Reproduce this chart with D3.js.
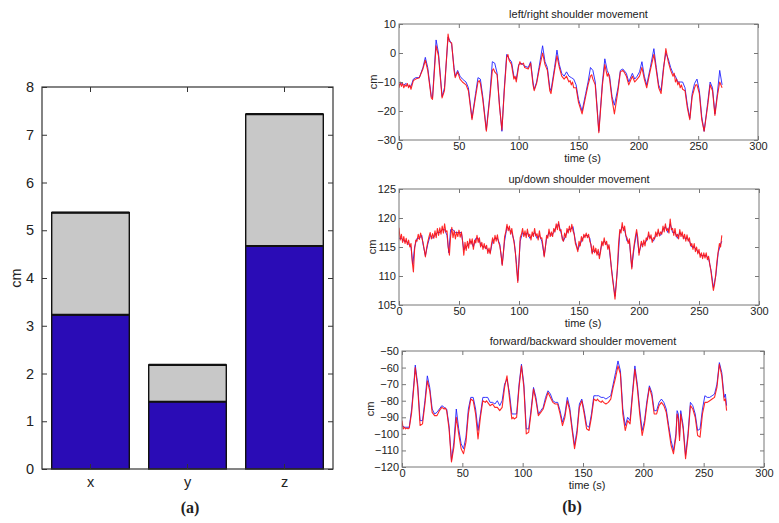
<!DOCTYPE html>
<html>
<head>
<meta charset="utf-8">
<script src="https://cdn.jsdelivr.net/npm/d3@7"></script>
<style>
  html, body { margin: 0; padding: 0; background: #fff; }
  svg { display: block; }
  text { font-family: "Liberation Sans", Arial, sans-serif; fill: #222; }
</style>
</head>
<body>
<svg id="chart" width="779" height="523"></svg>
<script>
// ---------------- (a) bar chart data ----------------
const categories = ["x", "y", "z"];
const blueValues = [3.23, 1.41, 4.67];
const grayValues = [2.14, 0.77, 2.76];   // stacked on top of blue
const barTicks = [0, 1, 2, 3, 4, 5, 6, 7, 8];

// ---------------- (b) time series data [time s, cm] ----------------
const timeTicks = [0, 50, 100, 150, 200, 250, 300];

const lrTicks = [-30, -20, -10, 0, 10];
const lrBlue = [[0,-11],[2,-10.5],[4,-11],[6,-10.5],[8,-11.5],[10,-11.5],[12,-9],[14,-8.5],[17,-8.5],[20,-5],[22,-1.5],[24,-5],[27,-15],[28,-15.5],[31,4.5],[33,0],[36,-15],[38,-12],[41,5.5],[44,3],[46,-5],[47,-8],[49,-6],[51,-8],[53,-9],[56,-10],[58,-12],[61,-22.5],[64,-14],[66,-8.5],[68,-9],[70,-15],[73,-26.5],[76,-14],[78,-3],[80,-3.5],[82,-7],[84,-18],[86,-27],[88,-12],[90,-0.5],[92,-2],[94,-3],[96,-8],[98,-9],[100,-4],[102,-3.5],[105,-4.5],[108,-5],[110,-3],[112,-10],[113,-12.5],[115,-10],[117,-5],[120,2.5],[122,-3],[124,-5],[126,-12],[127,-13],[130,-5],[132,1],[134,-4],[136,-7],[138,-8],[140,-6.5],[142,-8],[144,-8.5],[146,-9],[148,-11],[150,-16],[153,-20],[156,-14],[158,-10],[160,-5],[162,-6],[164,-10],[167,-27],[170,-10],[172,-2],[174,-6],[176,-8],[178,-15],[180,-18],[183,-12],[185,-6],[187,-5.5],[190,-7],[192,-10],[195,-7],[197,-9],[199,-8],[201,-6.5],[203,-3],[205,-8],[207,-11],[210,-5],[213,1.5],[215,-5],[217,-11],[219,-13],[221,-5],[223,0],[225,-2],[227,-5],[229,-7],[231,-8],[233,-10],[235,-10],[237,-10],[239,-12],[241,-18],[243,-22.5],[245,-14],[247,-10.5],[249,-9],[251,-13],[253,-22],[255,-27],[258,-17],[260,-10],[262,-12],[264,-21],[266,-14],[268,-6],[270,-11]];
const lrRed = [[0,-12],[1,-10],[2,-11.5],[3,-10.5],[4,-12],[5,-11],[6,-11.5],[7,-10.5],[8,-12],[9,-11],[10,-12.5],[11,-11],[12,-9.5],[14,-9],[17,-8.5],[20,-5.5],[22,-2.5],[24,-6],[27,-15.5],[28,-16],[31,2.5],[33,-1],[36,-15.5],[38,-13],[41,6.5],[42,4],[44,3.5],[46,-6],[47,-8.5],[49,-6.5],[51,-9],[53,-10],[56,-11],[58,-13],[61,-23],[64,-15],[66,-10],[67,-9.5],[68,-10.5],[70,-16],[73,-27],[76,-15],[78,-6],[79,-5.5],[80,-6.5],[82,-7.5],[84,-18.5],[86,-26.5],[88,-13],[90,-1.5],[91,-0.5],[92,-2.5],[94,-4],[96,-9],[97,-8],[98,-10],[100,-4.5],[101,-3],[102,-4],[104,-3.5],[105,-5],[108,-5.5],[110,-3.5],[112,-11],[113,-13],[115,-10.5],[117,-6],[120,0],[122,-4],[124,-6],[126,-13],[127,-14],[130,-6],[132,-1],[134,-5],[136,-8],[138,-9],[140,-8],[142,-10],[143,-9.5],[144,-11],[145,-10],[146,-12],[148,-12],[150,-17],[153,-21],[156,-15],[158,-11],[160,-8],[161,-7.5],[162,-9],[164,-11],[167,-27.5],[170,-11],[172,-4],[174,-8],[175,-7],[176,-9],[178,-16],[180,-21],[183,-13],[185,-6.5],[187,-6],[188,-6.5],[190,-8],[192,-11],[195,-8],[197,-10],[199,-9],[201,-8],[203,-5],[205,-9],[207,-12],[210,-6],[213,-0.5],[215,-6],[217,-12],[219,-14],[221,-6],[223,1.5],[225,-3],[227,-6],[229,-8],[230,-7],[231,-10],[232,-9],[233,-11],[234,-10],[235,-12],[236,-11],[237,-12.5],[239,-13],[241,-19],[243,-23],[245,-15],[247,-12],[248,-11],[249,-11],[251,-14],[253,-23],[255,-27],[258,-18],[260,-11],[262,-13],[264,-21.5],[266,-15],[268,-10],[269,-11],[270,-12]];

const udTicks = [105, 110, 115, 120, 125];
const udBlue = [[0,116.5],[2,116.5],[4,116],[6,116],[8,115.5],[10,115],[11.5,112],[13,115],[15,116.5],[17,116.5],[19,117],[20,115.5],[22,113.5],[24,115.5],[26,117],[28,116.5],[30,117],[32,117.5],[34,117.5],[36,118],[38,118],[40,117],[41.5,114],[43,118],[45,118],[47,117.5],[49,117.5],[52,117.5],[54,114.5],[56,115],[58,115.5],[60,116],[62,115],[64,116.5],[66,116.5],[68,115.5],[70,115],[72,115],[74,114.5],[76,114],[78,116],[80,116.5],[82,116.5],[84,115.5],[86,112],[88,116],[90,118.5],[92,118],[94,117.5],[96,116],[98,112],[99,109.2],[101,116],[103,117.5],[105,117],[107,117.5],[109,116.5],[111,117],[113,117.5],[115,116.5],[117,117],[119,116],[121,113.5],[123,116.5],[125,117.5],[127,117],[129,117.5],[131,118.5],[133,119],[135,117.5],[137,116],[139,117],[141,118],[143,118],[145,118.5],[147,116],[149,114.5],[151,115.5],[153,116.5],[155,117],[157,117],[159,116.5],[161,114],[163,114.5],[165,114],[167,113.5],[169,115.5],[171,116],[173,115.5],[175,115],[177,111.5],[179,108],[180,106.5],[182,111],[184,117.5],[186,118.5],[188,118],[190,116],[192,116],[194,111.5],[196,115],[198,117.5],[200,114],[202,115.5],[204,115.5],[206,116],[208,117],[210,116.5],[212,116],[214,117],[216,117.5],[218,117],[220,118],[222,118.5],[224,117.5],[226,119],[228,117.5],[230,117.5],[232,116.5],[234,117.5],[236,117],[238,116.5],[240,116.5],[242,116],[244,115],[246,115],[248,114.5],[250,114],[252,113.5],[254,113.5],[256,113.5],[258,113],[260,111],[262,108],[264,110],[266,114],[268,115.5],[269,116]];
// red samples, one per second starting at t = 0
const udRed = [118.3,116.2,117.2,115.8,116.8,115.6,116.5,115.4,116.2,115.0,115.6,112.5,110.7,114.6,116.2,116.0,117.2,116.3,117.4,116.6,115.8,114.6,113.3,114.8,115.9,116.8,117.5,116.4,117.3,116.5,117.8,116.6,118.2,117.0,118.3,117.2,118.6,117.4,119.0,117.6,117.8,115.0,113.6,116.8,118.4,116.6,117.8,116.4,117.6,116.8,117.9,116.7,117.6,116.0,113.6,115.8,114.4,116.0,114.8,116.4,115.5,116.4,114.6,116.2,115.7,117.0,115.8,116.6,115.0,115.8,114.6,115.6,114.7,115.3,113.9,114.8,113.8,115.4,116.6,115.6,117.0,116.0,117.1,115.8,115.2,113.8,111.8,114.0,116.8,117.6,118.9,117.8,118.6,117.2,118.2,116.8,115.6,114.0,111.2,108.9,112.5,116.6,117.2,118.2,116.8,117.8,116.6,118.1,116.8,117.2,116.2,117.6,116.8,118.2,116.9,117.3,116.2,117.8,116.5,116.6,115.2,113.3,115.0,117.0,116.5,118.1,116.8,117.6,116.8,118.2,117.6,119.0,118.0,119.4,117.8,118.0,116.4,116.0,117.4,116.6,118.2,117.4,118.6,117.6,118.9,117.8,117.2,115.6,115.0,114.2,116.0,115.2,116.8,116.0,117.2,116.6,117.4,116.6,117.2,116.0,115.4,113.8,115.2,114.0,114.8,113.6,114.6,113.0,114.2,116.0,115.2,116.6,115.4,116.0,114.6,115.4,113.6,111.2,109.4,107.8,106.0,108.4,111.5,115.6,118.0,117.4,119.2,117.8,118.6,117.0,116.6,115.6,116.4,113.6,111.2,113.8,115.4,116.8,118.0,116.6,113.6,115.0,116.0,115.0,116.2,115.2,116.6,116.2,117.6,116.4,117.1,115.8,116.6,116.4,117.6,116.8,118.1,116.9,117.6,117.2,118.6,117.6,119.0,117.8,118.2,117.4,119.8,118.0,118.2,117.0,118.2,116.8,117.2,116.4,118.0,116.8,117.6,116.4,117.2,116.0,117.1,116.0,116.6,115.2,115.6,114.6,115.6,114.2,115.0,113.8,114.6,113.2,114.0,113.0,114.0,113.1,114.0,112.8,113.4,112.0,110.8,109.0,107.5,108.6,110.4,112.6,114.2,115.6,115.0,117.0];

const fbTicks = [-120, -110, -100, -90, -80, -70, -60, -50];
const fbBlue = [[0,-95],[2,-96],[4,-96],[6,-96],[8,-85],[10,-68],[11,-58.5],[13,-70],[15,-92],[17,-92],[19,-80],[21,-65],[23,-72],[25,-85],[27,-88],[29,-87],[31,-85],[33,-83],[35,-84],[37,-85],[39,-95],[41,-116],[43,-105],[45,-85],[47,-97],[49,-106],[51,-109],[53,-102],[55,-85],[57,-78],[59,-78],[61,-85],[63,-98],[65,-88],[67,-78],[69,-78],[71,-78],[73,-81],[75,-81],[77,-82],[79,-80],[81,-83],[83,-80],[85,-70],[87,-67],[89,-75],[91,-88],[93,-88],[95,-88],[97,-70],[99,-58],[101,-70],[103,-97],[105,-97],[107,-85],[109,-72],[111,-78],[113,-88],[115,-86],[117,-84],[119,-78],[121,-74],[123,-76],[125,-80],[127,-81],[129,-81],[131,-86],[133,-93],[135,-88],[137,-78],[139,-84],[141,-96],[143,-107],[145,-98],[147,-82],[149,-79],[151,-86],[153,-95],[155,-96],[157,-88],[159,-77],[161,-77],[163,-77],[165,-78],[167,-78],[169,-79],[171,-78],[173,-77],[175,-70],[177,-63],[179,-56],[181,-62],[183,-85],[185,-95],[187,-90],[189,-92],[191,-75],[193,-59],[195,-70],[197,-85],[199,-98],[201,-92],[203,-80],[205,-71],[207,-75],[209,-86],[211,-86],[213,-81],[215,-79],[217,-81],[219,-85],[221,-95],[223,-104],[225,-110],[227,-100],[228,-86],[229,-88],[230,-102],[231,-86],[233,-95],[235,-113],[237,-100],[239,-81],[241,-83],[243,-88],[245,-98],[247,-97],[249,-85],[251,-77],[253,-78],[255,-78],[257,-77],[259,-76],[261,-70],[263,-57],[265,-63],[267,-78],[268,-76],[269,-83]];
const fbRed = [[0,-92],[1,-97],[2,-96],[3,-97],[4,-96.5],[5,-97],[6,-96.5],[8,-87],[10,-70],[11,-60],[13,-72],[15,-95],[17,-94],[19,-82],[21,-68],[23,-74],[25,-87],[27,-89],[29,-89],[31,-86],[33,-84],[35,-85],[36,-84.5],[37,-86],[39,-97],[41,-117],[43,-108],[45,-90],[47,-100],[49,-109],[51,-112],[53,-105],[55,-88],[57,-79],[59,-80],[61,-88],[63,-103],[65,-90],[67,-80],[69,-81],[70,-80],[71,-81],[73,-83],[75,-82],[77,-84],[79,-84],[81,-86],[83,-84],[85,-72],[87,-65],[89,-78],[91,-91],[92,-90],[93,-91],[95,-90],[97,-72],[99,-59],[101,-72],[103,-100],[105,-99],[107,-87],[109,-73],[111,-80],[113,-89],[115,-87],[117,-85],[119,-80],[121,-75],[123,-78],[125,-81],[127,-82],[129,-82],[131,-88],[133,-95],[135,-90],[137,-80],[139,-86],[141,-98],[143,-109],[145,-100],[147,-84],[149,-80],[151,-88],[153,-97],[155,-98],[157,-90],[159,-79],[161,-80],[162,-79],[163,-80],[165,-81],[166,-80],[167,-81],[169,-82],[171,-81],[173,-79],[175,-72],[177,-66],[179,-59],[181,-64],[183,-88],[185,-98],[187,-92],[189,-94],[191,-77],[193,-61],[195,-72],[197,-88],[199,-101],[201,-94],[203,-82],[205,-72],[207,-77],[209,-88],[211,-88],[213,-83],[215,-81],[217,-83],[219,-87],[221,-97],[223,-107],[225,-112],[227,-102],[228,-88],[229,-91],[230,-104],[231,-88],[233,-97],[235,-115],[237,-102],[239,-83],[241,-85],[243,-90],[245,-101],[247,-102],[249,-88],[251,-81],[253,-81],[255,-80],[257,-79],[259,-78],[261,-72],[263,-58],[265,-65],[267,-80],[268,-79],[269,-86]];

// ---------------- drawing ----------------
const svg = d3.select("#chart");

// ===== (a) =====
(function drawBars() {
  const L = 42, R = 333, T = 87, B = 469;
  const x = d3.scaleBand().domain(categories).range([L, R]).paddingInner(0.2).paddingOuter(0.1);
  const y = d3.scaleLinear().domain([0, 8]).range([B, T]);
  const g = svg.append("g");

  const rows = categories.map((c, i) => ({ c, b: blueValues[i], t: blueValues[i] + grayValues[i] }));

  g.selectAll("rect.blue").data(rows).join("rect")
    .attr("x", d => x(d.c)).attr("width", x.bandwidth())
    .attr("y", d => y(d.b)).attr("height", d => y(0) - y(d.b))
    .attr("fill", "#2a0cb6").attr("stroke", "#111").attr("stroke-width", 1.4);
  g.selectAll("rect.gray").data(rows).join("rect")
    .attr("x", d => x(d.c)).attr("width", x.bandwidth())
    .attr("y", d => y(d.t)).attr("height", d => y(d.b) - y(d.t))
    .attr("fill", "#c8c8c8").attr("stroke", "#111").attr("stroke-width", 1.4);
  g.selectAll("line.top").data(rows).join("line")
    .attr("x1", d => x(d.c)).attr("x2", d => x(d.c) + x.bandwidth())
    .attr("y1", d => y(d.t)).attr("y2", d => y(d.t))
    .attr("stroke", "#111").attr("stroke-width", 2.2);
  g.selectAll("line.mid").data(rows).join("line")
    .attr("x1", d => x(d.c)).attr("x2", d => x(d.c) + x.bandwidth())
    .attr("y1", d => y(d.b)).attr("y2", d => y(d.b))
    .attr("stroke", "#111").attr("stroke-width", 1.8);

  // frame
  g.append("rect").attr("x", L).attr("y", T).attr("width", R - L).attr("height", B - T)
    .attr("fill", "none").attr("stroke", "#333").attr("stroke-width", 1.2);

  const yl = g.append("g").attr("transform", `translate(${L},0)`)
    .call(d3.axisLeft(y).tickValues(barTicks).tickFormat(d3.format("d")).tickSize(-5).tickPadding(8));
  const yr = g.append("g").attr("transform", `translate(${R},0)`)
    .call(d3.axisRight(y).tickValues(barTicks).tickFormat("").tickSize(-5));
  const xb = g.append("g").attr("transform", `translate(0,${B})`)
    .call(d3.axisBottom(x).tickSize(-5).tickPadding(8));
  const xt = g.append("g").attr("transform", `translate(0,${T})`)
    .call(d3.axisTop(x).tickFormat("").tickSize(-5));
  [yl, yr, xb, xt].forEach(a => {
    a.select(".domain").remove();
    a.selectAll(".tick line").attr("stroke", "#333");
    a.selectAll("text").style("font-size", "14.5px").attr("fill", "#222");
  });
  xb.selectAll("text").attr("dy", "0.71em");

  g.append("text").attr("transform", `translate(16,${(T + B) / 2}) rotate(-90)`)
    .attr("text-anchor", "middle").attr("dy", "0.35em")
    .style("font-size", "14.5px").text("cm");

  svg.append("text").attr("x", 190).attr("y", 513).attr("text-anchor", "middle")
    .style("font-family", "'Liberation Serif', 'DejaVu Serif', serif").style("font-weight", "bold")
    .style("font-size", "16px").text("(a)");
})();

// ===== (b) =====
function drawPanel(cfg) {
  const { L, R, T, B, yDomain, yTicks, title, blue, red } = cfg;
  const x = d3.scaleLinear().domain([0, 300]).range([L, R]);
  const y = d3.scaleLinear().domain(yDomain).range([B, T]);
  const g = svg.append("g");
  const clipId = "clip" + Math.round(T);
  g.append("clipPath").attr("id", clipId).append("rect")
    .attr("x", L).attr("y", T).attr("width", R - L).attr("height", B - T);

  const line = d3.line().x(d => x(d[0])).y(d => y(d[1]));
  const lines = g.append("g").attr("clip-path", `url(#${clipId})`);
  lines.append("path").datum(blue).attr("d", line)
    .attr("fill", "none").attr("stroke", "#2020ff").attr("stroke-width", 0.9).attr("stroke-linejoin", "round");
  lines.append("path").datum(red).attr("d", line)
    .attr("fill", "none").attr("stroke", "#ff1010").attr("stroke-width", 1.1).attr("stroke-opacity", 0.9)
    .attr("stroke-linejoin", "round");

  g.append("rect").attr("x", L).attr("y", T).attr("width", R - L).attr("height", B - T)
    .attr("fill", "none").attr("stroke", "#777").attr("stroke-width", 1);

  const yl = g.append("g").attr("transform", `translate(${L},0)`)
    .call(d3.axisLeft(y).tickValues(yTicks).tickSize(-4).tickPadding(3));
  const yr = g.append("g").attr("transform", `translate(${R},0)`)
    .call(d3.axisRight(y).tickValues(yTicks).tickFormat("").tickSize(-4));
  const xb = g.append("g").attr("transform", `translate(0,${B})`)
    .call(d3.axisBottom(x).tickValues(timeTicks).tickSize(-4).tickPadding(2));
  const xt = g.append("g").attr("transform", `translate(0,${T})`)
    .call(d3.axisTop(x).tickValues(timeTicks).tickFormat("").tickSize(-4));
  [yl, yr, xb, xt].forEach(a => {
    a.select(".domain").remove();
    a.selectAll(".tick line").attr("stroke", "#777");
    a.selectAll("text").style("font-size", "11px").attr("fill", "#222");
  });
  xb.selectAll("text").attr("dy", "0.71em");

  g.append("text").attr("x", (L + R) / 2).attr("y", T - 6).attr("text-anchor", "middle")
    .style("font-size", "11px").text(title);
  g.append("text").attr("x", (L + R) / 2 + 4).attr("y", B + 22).attr("text-anchor", "middle")
    .style("font-size", "11px").text("time (s)");
  g.append("text").attr("transform", `translate(${cfg.cmX},${(T + B) / 2}) rotate(-90)`)
    .attr("text-anchor", "middle").attr("dy", "0.35em").style("font-size", "11px").text("cm");
}

drawPanel({ L: 399, R: 758, T: 24, B: 140, yDomain: [-30, 10], yTicks: lrTicks,
  title: "left/right shoulder movement", blue: lrBlue, red: lrRed, cmX: 373 });
drawPanel({ L: 399, R: 759, T: 189, B: 305, yDomain: [105, 125], yTicks: udTicks,
  title: "up/down shoulder movement", blue: udBlue, red: udRed.map((v, i) => [i, v]), cmX: 372 });
drawPanel({ L: 402, R: 764, T: 351, B: 467, yDomain: [-120, -50], yTicks: fbTicks,
  title: "forward/backward shoulder movement", blue: fbBlue, red: fbRed, cmX: 370 });

svg.append("text").attr("x", 572).attr("y", 512).attr("text-anchor", "middle")
  .style("font-family", "'Liberation Serif', 'DejaVu Serif', serif").style("font-weight", "bold")
  .style("font-size", "16px").text("(b)");
</script>
</body>
</html>
